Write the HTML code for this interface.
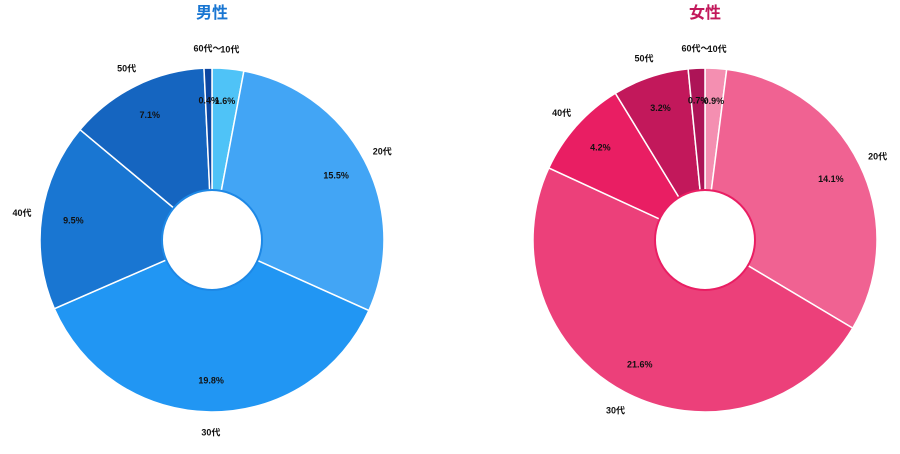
<!DOCTYPE html>
<html><head><meta charset="utf-8"><style>
body{margin:0;background:#fff;width:900px;height:449px;overflow:hidden;font-family:"Liberation Sans","Noto Sans CJK JP",sans-serif}
svg text{font-family:"Liberation Sans","Noto Sans CJK JP",sans-serif}
</style></head><body>
<svg id="chart" width="900" height="449"></svg>
<script>
const categories = ["10代","20代","30代","40代","50代","60代～"];
const maleValues = [1.6,15.5,19.8,9.5,7.1,0.4];
const femaleValues = [0.9,14.1,21.6,4.2,3.2,0.7];
const maleColors = ["#4fc3f7","#42a5f5","#2196f3","#1976d2","#1565c0","#0d47a1"];
const femaleColors = ["#f48fb1","#f06292","#ec407a","#e91e63","#c2185b","#ad1457"];
const NS="http://www.w3.org/2000/svg";
const svg=document.getElementById('chart');
function mk(t,a,p){const e=document.createElementNS(NS,t);for(const k in a)e.setAttribute(k,a[k]);(p||svg).appendChild(e);return e;}
function pt(cx,cy,r,ang){return [cx+r*Math.sin(ang),cy-r*Math.cos(ang)];}
function donut(cx,cy,values,colors,title,titleColor,accent,key){
  const g=mk('g',{});
  
  
  const t=mk('text',{x:cx,y:18,'text-anchor':'middle','font-size':16,'font-weight':'bold',fill:titleColor},g);
  t.textContent=title;
  
  
  const R=172,r0=50,total=values.reduce((a,b)=>a+b,0);
  let a=0;
  const labels=[];
  values.forEach((v,i)=>{
    const sw=v/total*2*Math.PI,a2=a+sw;
    const [x1,y1]=pt(cx,cy,R,a),[x2,y2]=pt(cx,cy,R,a2);
    const p=mk('path',{d:`M${cx},${cy}L${x1},${y1}A${R},${R} 0 ${sw>Math.PI?1:0} 1 ${x2},${y2}Z`,fill:colors[i],stroke:'#fff','stroke-width':1.5},g);
    
    
    const m=a+sw/2;
    const [px,py]=pt(cx,cy,140,m),[lx,ly]=pt(cx,cy,192,m);
    labels.push([px,py,v.toFixed(1)+'%','pct-'+i],[lx,ly,categories[i],'label-'+i]);
    a=a2;
  });
  const c=mk('circle',{cx:cx,cy:cy,r:r0,fill:'#fff',stroke:accent,'stroke-width':2},g);
  
  
  labels.forEach(l=>{
    const tx=mk('text',{x:l[0],y:l[1]+3.5,'text-anchor':'middle','font-size':9,'font-weight':'bold',fill:'#111'},g);
    tx.textContent=l[2];
    
    
  });
}
donut(212,240,maleValues,maleColors,'男性','#1976d2','#1e88e5','male');
donut(705,240,femaleValues,femaleColors,'女性','#c2185b','#e91e63','female');
</script>
</body></html>
